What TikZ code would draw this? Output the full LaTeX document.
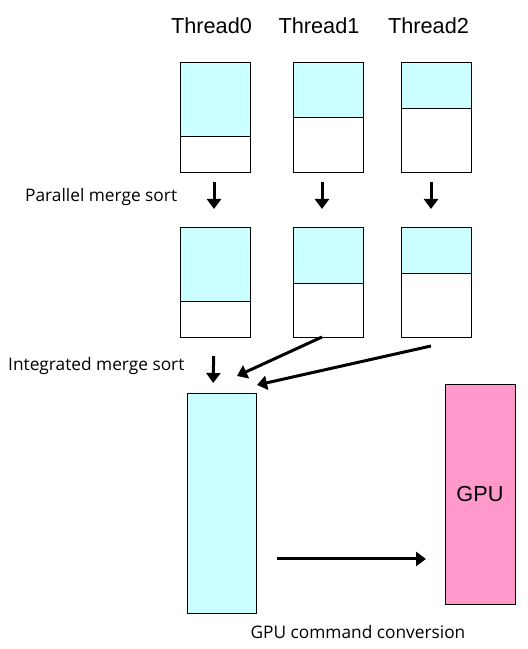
\documentclass[tikz,border=0pt]{standalone}
\usepackage{fontspec}
\setmainfont{Liberation Sans}
\newfontfamily\notefont{Open Sans}
\usetikzlibrary{arrows.meta, positioning, calc}
\definecolor{sortcyan}{RGB}{204, 255, 255}
\definecolor{gpupink}{RGB}{255, 153, 204}

\begin{document}
\begin{tikzpicture}[x=1pt, y=1pt,
        title/.style={font=\fontsize{21.7}{26}\selectfont, inner sep=0pt},
        note/.style={font=\notefont\fontsize{17.3}{20}\selectfont, inner sep=0pt},
        part/.style={draw, line width=0.9pt, outer sep=0pt, inner sep=0pt, minimum width=70pt, minimum height=110pt,
          path picture={
            \fill[sortcyan] (path picture bounding box.north west) rectangle ([yshift=-#1]path picture bounding box.north east);
            \draw[line width=0.9pt] ([yshift=-#1]path picture bounding box.north west) -- ([yshift=-#1]path picture bounding box.north east);
          }},
        tall/.style={draw, line width=0.9pt, outer sep=0pt, inner sep=0pt, minimum width=70pt, minimum height=220pt},
        arr/.style={-{Triangle[length=10pt, width=14pt]}, line width=3pt}
      ]
        \useasboundingbox (0,0) rectangle (528,649);
        % thread blocks before and after the parallel sort
        \node[part=74pt] (t0a) at (215,532) {};
        \node[part=55pt, right=43pt of t0a] (t1a) {};
        \node[part=46pt, right=38pt of t1a] (t2a) {};
        \node[part=74pt, below=55pt of t0a] (t0b) {};
        \node[part=56pt, below=55pt of t1a] (t1b) {};
        \node[part=46pt, below=55pt of t2a] (t2b) {};
        \node[title, above=28pt of t0a, xshift=-3.5pt] (th0) {Thread0};
        \node[title, above=28pt of t1a, xshift=-9pt] (th1) {Thread1};
        \node[title, above=28pt of t2a, xshift=-7.5pt] (th2) {Thread2};
        % merged result and GPU
        \node[tall, fill=sortcyan, minimum width=69pt] (merged) at (221.5,146) {};
        \node[tall, fill=gpupink, font=\fontsize{21.7}{26}\selectfont] (gpu) at (480,155) {GPU};
        % labels
        \node[note, anchor=west] (psort) at (25,452) {Parallel merge sort};
        \node[note, anchor=west] (isort) at (8,283) {Integrated merge sort};
        \node[note] (conv) at (358,17) {GPU command conversion};
        % arrows
        \foreach \t/\dx in {0/-1, 1/-6, 2/-5}
          \draw[arr, shorten <=10pt, shorten >=18pt] ([xshift=\dx pt]t\t a.south) -- ([xshift=\dx pt]t\t b.north);
        \draw[arr, shorten <=19pt, shorten >=10pt] ([xshift=-1pt]t0b.south) -- ([xshift=-8.5pt]merged.north);
        \draw[arr] ([xshift=-6pt]t1b.south) -- ([xshift=-19pt, yshift=17pt]merged.north east);
        \draw[arr] ([xshift=-5pt, yshift=-9pt]t2b.south) -- ([xshift=1pt, yshift=8pt]merged.north east);
        \draw[arr] ($(merged.south east)+(21,54)$) -- ($(gpu.south west)+(-19,45)$);
      \end{tikzpicture}
\end{document}
